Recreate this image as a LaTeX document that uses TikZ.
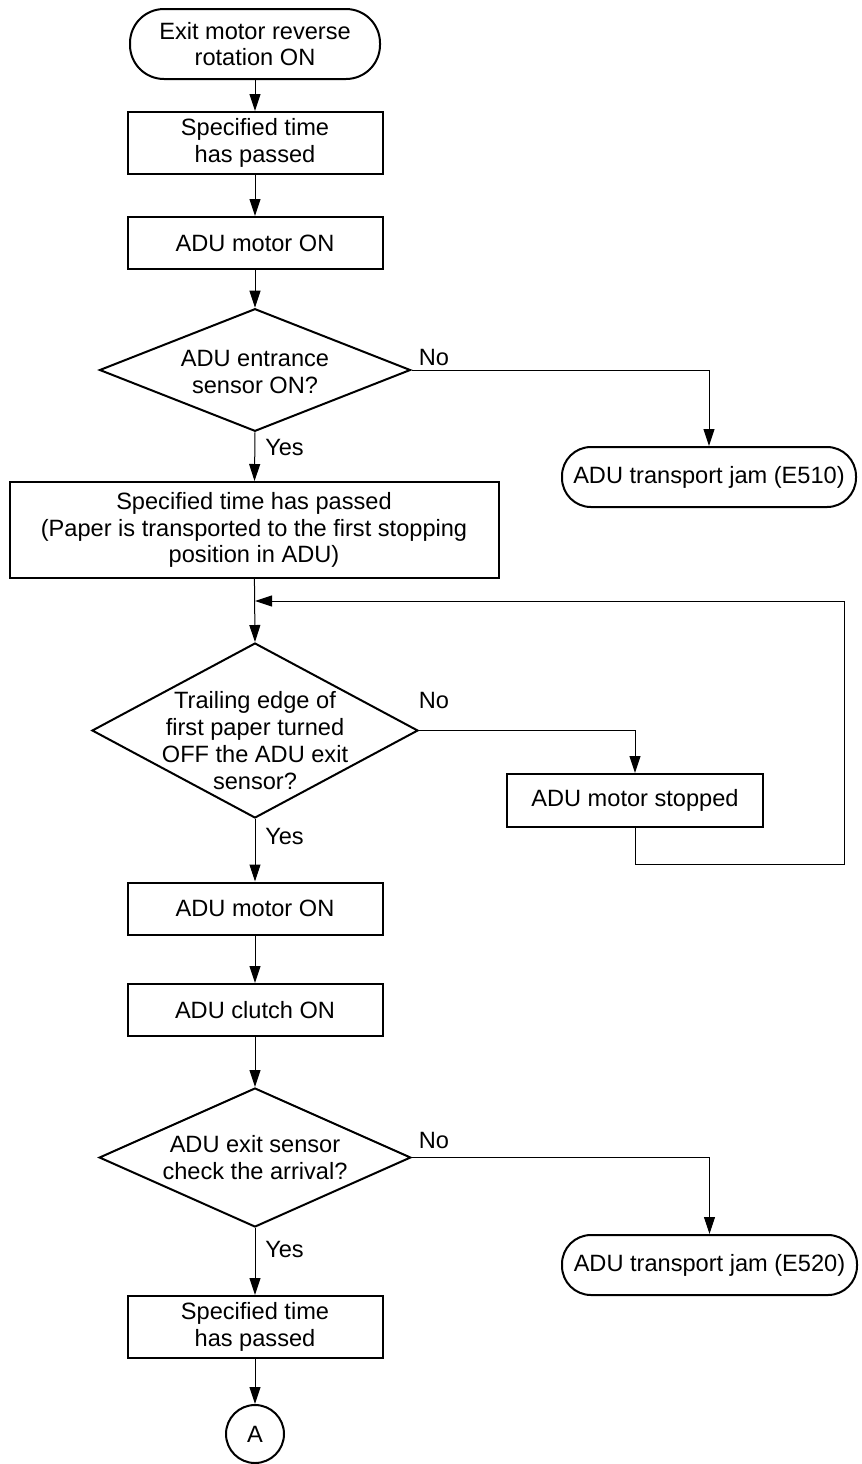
\documentclass[tikz,border=0pt]{standalone}
\usepackage{fontspec}
\setmainfont{Liberation Sans}
\usetikzlibrary{shapes.geometric,arrows.meta}

\tikzset{
  proc/.style={draw, line width=1pt, minimum width=127.5pt, minimum height=26pt, inner sep=0pt, align=center},
  term/.style={draw, line width=1pt, rounded corners=14.5pt, inner sep=0pt, align=center},
  decision/.style={draw, diamond, line width=1pt, inner sep=0pt},
  flow/.style={line width=0.5pt, -{Triangle[length=8.5pt,width=5.5pt]}},
}

\begin{document}
\begin{tikzpicture}[x=0.5pt, y=-0.5pt, every node/.style={font=\fontsize{11.8}{13.4}\selectfont}]
  \useasboundingbox (0,0) rectangle (862,1464);

  % 开始
  \node[term, rounded corners=17pt, minimum width=125pt, minimum height=35pt] (start) at (255,44) {Exit motor reverse\\rotation ON};
  \node[proc, minimum height=31pt] (wait1) at (255,143) {Specified time\\has passed};
  \node[proc] (motor1) at (255,243) {ADU motor ON};

  % 判断1: 入口传感器
  \node[decision, minimum width=155.5pt, minimum height=61.3pt] (chk1) at (255,370) {};
  \node[align=center] (chk1txt) at ([yshift=-1pt]chk1) {ADU entrance\\sensor ON?};
  \node[term, minimum width=147pt, minimum height=30pt] (jam1) at (709,477) {ADU transport jam (E510)};
  \node[inner sep=0pt] (no1) at (434,357.5) {No};
  \node[inner sep=0pt] (yes1) at (284.5,447.5) {Yes};

  \node[proc, minimum width=244.5pt, minimum height=48pt] (wait2) at (254,530)
    {Specified time has passed\\(Paper is transported to the first stopping\\position in ADU)};

  % 判断2: 后端通过出口传感器
  \coordinate (loopin) at (255,601);
  \coordinate (loopr) at (844,864);
  \node[decision, minimum width=163pt, minimum height=87.5pt] (chk2) at (255,730.5) {};
  \node[align=center] (chk2txt) at ([yshift=-5pt]chk2) {Trailing edge of\\first paper turned\\OFF the ADU exit\\sensor?};
  \node[proc, minimum width=128pt, minimum height=26.5pt] (stop) at (635,800.5) {ADU motor stopped};
  \node[inner sep=0pt] (no2) at (434,700) {No};
  \node[inner sep=0pt] (yes2) at (284.5,836) {Yes};

  \node[proc] (motor2) at (255,908.5) {ADU motor ON};
  \node[proc] (clutch) at (255,1010) {ADU clutch ON};

  % 判断3: 出口传感器到达
  \node[decision, minimum width=155.8pt, minimum height=69.5pt] (chk3) at (255,1157.5) {};
  \node[align=center] (chk3txt) at (chk3) {ADU exit sensor\\check the arrival?};
  \node[term, minimum width=147.5pt, minimum height=30pt] (jam2) at (709.5,1265) {ADU transport jam (E520)};
  \node[inner sep=0pt] (no3) at (434,1140) {No};
  \node[inner sep=0pt] (yes3) at (284.5,1249) {Yes};

  \node[proc, minimum height=31pt] (wait3) at (255,1327) {Specified time\\has passed};
  \node[draw, circle, line width=1pt, minimum size=29pt, inner sep=0pt] (conA) at (255,1434) {A};

  % 连线
  \draw[flow] (start) -- (wait1);
  \draw[flow] (wait1) -- (motor1);
  \draw[flow] (motor1) -- (chk1);
  \draw[flow] (chk1.east) -| (jam1.north);
  \draw[flow] (chk1.south) -- (wait2);
  \draw[flow] (wait2) -- (chk2.north);
  \draw[flow] (chk2.east) -| (stop.north);
  \draw[flow] (stop.south) |- (loopr) |- (loopin);
  \draw[flow] (chk2.south) -- (motor2);
  \draw[flow] (motor2) -- (clutch);
  \draw[flow] (clutch) -- (chk3);
  \draw[flow] (chk3.east) -| (jam2.north);
  \draw[flow] (chk3.south) -- (wait3);
  \draw[flow] (wait3) -- (conA);
\end{tikzpicture}
\end{document}
